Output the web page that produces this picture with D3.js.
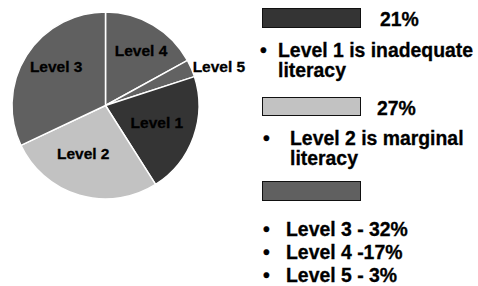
<html>
<head>
<style>
  body { margin: 0; background: #fff; }
  text { font-family: "Liberation Sans", Arial, sans-serif; font-weight: bold; fill: #000; stroke: #000; stroke-width: 0.3; }
</style>
<script src="https://d3js.org/d3.v7.min.js"></script>
</head>
<body>
<svg width="478" height="286"></svg>
<script>
// slices, clockwise from 12 o'clock
const levels = ['Level 4', 'Level 5', 'Level 1', 'Level 2', 'Level 3'];
const shares = [17, 3, 21, 27, 32];
const shades = ['#5f5f5f', '#626262', '#343434', '#c2c2c2', '#606060'];

// legend boxes and their notes
const legendShares = ['21%', '27%', ''];
const legendShades = ['#343434', '#c2c2c2', '#606060'];
const notes1 = ['Level 1 is inadequate', 'literacy'];
const notes2 = ['Level 2 is marginal', 'literacy'];
const notes3 = ['Level 3 - 32%', 'Level 4 -17%', 'Level 5 - 3%'];

const svg = d3.select('svg');
const cx = 105.5, cy = 105.5, R = 93.5;

const pie = d3.pie().sort(null).value(d => d)(shares);
const arc = d3.arc().innerRadius(0).outerRadius(R);
const labelArc = d3.arc().innerRadius(62).outerRadius(62);
const outerArc = d3.arc().innerRadius(R + 8).outerRadius(R + 8);

const g = svg.append('g').attr('transform', `translate(${cx},${cy})`);

g.selectAll('path')
  .data(pie)
  .join('path')
  .attr('d', arc)
  .attr('fill', (d, i) => shades[i])
  .attr('stroke', '#fff')
  .attr('stroke-width', 1.5);

// small nudges so labels sit where the original put them
const nudge = [[4, -2], [0, 0], [-7, -4], [-5, -12], [3, -6]];

g.selectAll('text.lbl')
  .data(pie)
  .join('text')
  .attr('class', 'lbl')
  .attr('font-size', 15.5)
  .attr('text-anchor', (d, i) => levels[i] === 'Level 5' ? 'start' : 'middle')
  .attr('dominant-baseline', 'central')
  .attr('x', (d, i) => levels[i] === 'Level 5' ? outerArc.centroid(d)[0] - 6 : labelArc.centroid(d)[0] + nudge[i][0])
  .attr('y', (d, i) => levels[i] === 'Level 5' ? outerArc.centroid(d)[1] + 1 : labelArc.centroid(d)[1] + nudge[i][1])
  .text((d, i) => levels[i]);

// legend
const boxY = [8, 97, 181];
const boxH = [19, 18, 19];
const fs = 19.4;
const lg = svg.append('g');

lg.selectAll('rect')
  .data(legendShades)
  .join('rect')
  .attr('x', 262.5)
  .attr('y', (d, i) => boxY[i] + 0.5)
  .attr('width', 98)
  .attr('height', (d, i) => boxH[i])
  .attr('fill', d => d)
  .attr('stroke', '#111')
  .attr('stroke-width', 1);

lg.selectAll('text.pct')
  .data(legendShares)
  .join('text')
  .attr('class', 'pct')
  .attr('font-size', fs)
  .attr('x', (d, i) => i === 0 ? 380 : 377)
  .attr('y', (d, i) => boxY[i] + 18)
  .text(d => d);

function bulletBlock(lines, bx, tx, y0, step, every) {
  lines.forEach((t, i) => {
    if (every || i === 0) {
      lg.append('text').attr('font-size', fs).attr('x', bx).attr('y', y0 + i * step).text('\u2022');
    }
    lg.append('text').attr('font-size', fs).attr('x', tx).attr('y', y0 + i * step).text(t);
  });
}

bulletBlock(notes1, 260, 278, 57, 20, false);
bulletBlock(notes2, 263, 290, 145, 20, false);
bulletBlock(notes3, 263, 286, 236, 23, true);
</script>
</body>
</html>
